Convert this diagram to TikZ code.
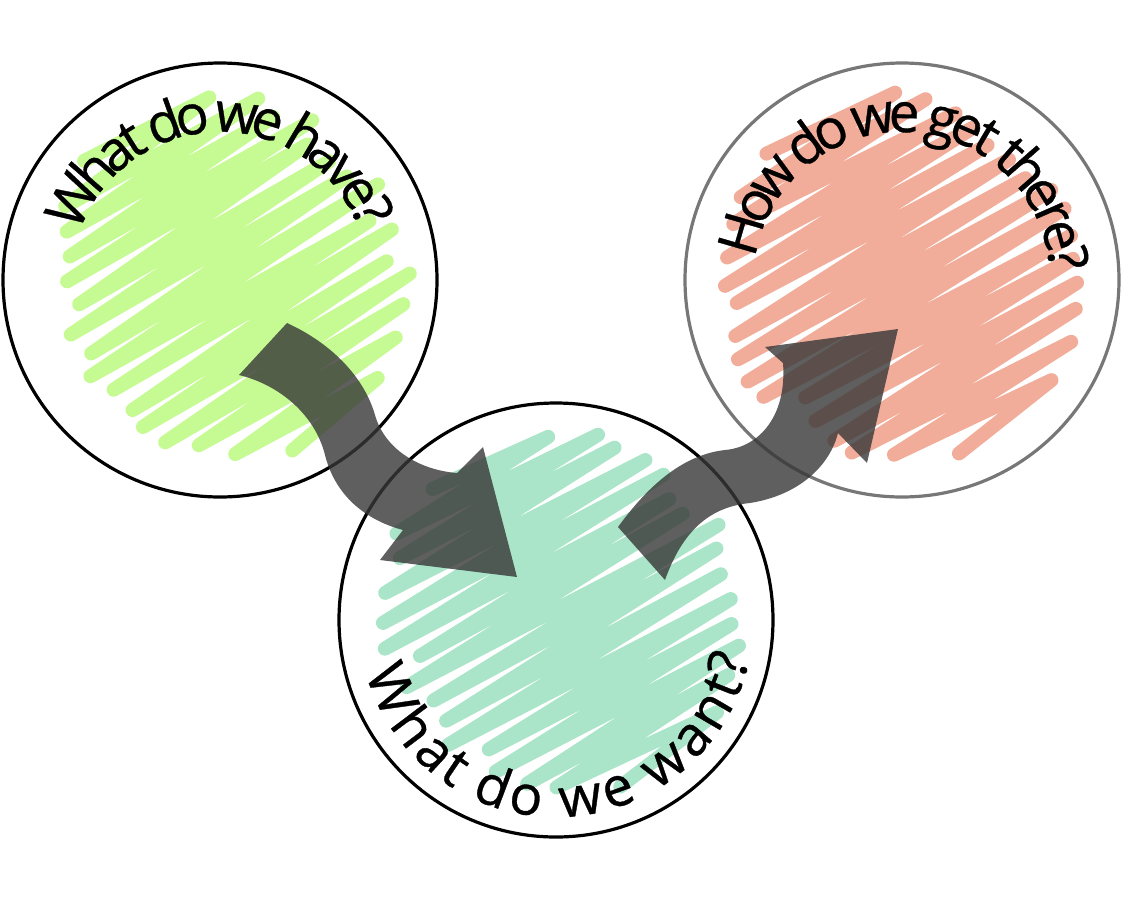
\documentclass[tikz,border=0pt]{standalone}
\usepackage{fontspec}
\setmainfont{Open Sans}
\newfontfamily\arcfont[FakeBold=0.6]{Open Sans}
\usetikzlibrary{decorations.text}
\definecolor{scgreen}{RGB}{198,250,146}
\definecolor{scteal}{RGB}{170,229,201}
\definecolor{scsalmon}{RGB}{241,173,154}
\definecolor{arrowgray}{RGB}{55,55,55}
\definecolor{ringgray}{RGB}{119,119,119}
\tikzset{
  ring/.style={circle, draw, line width=3.2pt, inner sep=0pt, minimum size=434pt},
  scribline/.style={line width=14pt, line cap=round, line join=round},
  bigarrow/.style={fill=arrowgray, fill opacity=0.8},
}
\newcommand\scribble[6]{%
  \pgfmathsetseed{#6}%
  \begin{scope}[shift={(#2,#3)}, rotate=#5]
    \draw[#1, scribline] ({-0.2*#4},{-0.98*#4})
      \foreach \k [evaluate=\k as \vv using -0.95+\k*0.063] in {1,...,30}
        { -- ({(2*mod(\k,2)-1)*#4*sqrt(1-(\vv)*(\vv))*(0.8+0.2*rnd)}, {#4*\vv+3*rand}) };
  \end{scope}}
\newcommand\bigtxt{\arcfont\fontsize{55pt}{66pt}\selectfont}
\begin{document}
\begin{tikzpicture}[x=1pt,y=1pt]
\useasboundingbox (0,0) rectangle (1138,-914);
% scribble fills
\scribble{scgreen}{228}{-278}{184}{32}{11}
\scribble{scteal}{562}{-612}{184}{30}{23}
\scribble{scsalmon}{900}{-277}{186}{30}{37}
% circles
\node[ring] (c1) at (220,-280) {};
\node[ring] (c2) at (556,-620) {};
\node[ring, draw=ringgray] (c3) at (902,-280) {};
% texts along arcs
\path[decorate, decoration={text along path, text align=center, raise=-44pt,
   text={|\bigtxt|What do we have?}}]
   (c1.center) ++(165:192) arc[start angle=165, end angle=15, radius=192];
\path[decorate, decoration={text along path, text align=center, raise=-24pt,
   text={|\bigtxt|What do we want?}}]
   (c2.center) ++(187:173) arc[start angle=187, end angle=357, radius=173];
\path[decorate, decoration={text along path, text align=center, raise=-44pt,
   text={|\bigtxt|How do we get there?}}]
   (c3.center) ++(177:192) arc[start angle=177, end angle=-3, radius=192];
% arrows
\fill[bigarrow] (287,-323) .. controls (335,-345) and (365,-380) .. (375,-415)
   .. controls (385,-450) and (420,-470) .. (457,-473) -- (483,-447) -- (517,-577)
   -- (380,-560) -- (403,-530) .. controls (365,-520) and (335,-495) .. (325,-455)
   .. controls (315,-415) and (280,-385) .. (239,-375) -- cycle;
\fill[bigarrow] (618,-527) .. controls (645,-490) and (680,-455) .. (725,-450)
   .. controls (760,-447) and (787,-415) .. (783,-363) -- (765,-347) -- (898,-329)
   -- (867,-463) -- (838,-433) .. controls (830,-465) and (800,-495) .. (750,-503)
   .. controls (710,-507) and (683,-530) .. (665,-580) -- cycle;
\end{tikzpicture}
\end{document}
